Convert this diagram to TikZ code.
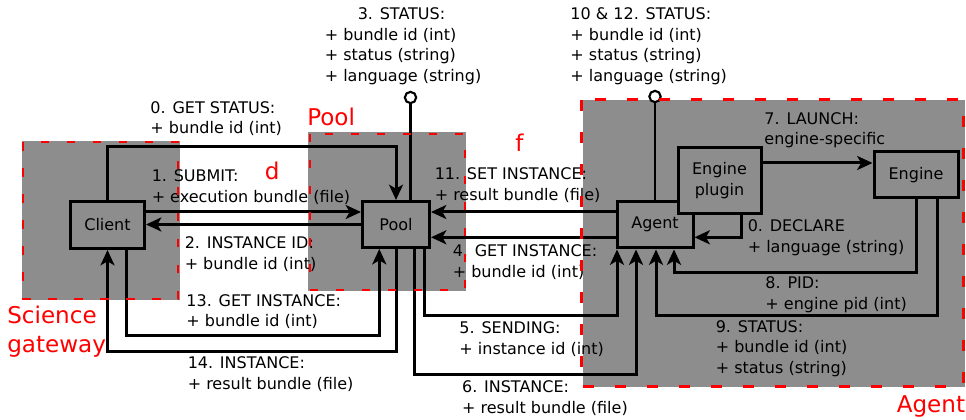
\documentclass[tikz,border=0pt]{standalone}
\usepackage{fontspec}
\setmainfont{DejaVu Sans}
\usetikzlibrary{arrows.meta,calc}
\definecolor{regiongray}{RGB}{141,141,141}
\begin{document}
\begin{tikzpicture}[x=0.75pt,y=-0.75pt,
  conn/.style={line width=2.25pt},
  arr/.style={-{Stealth[length=11.5pt,width=10.5pt,inset=3pt]}},
  box/.style={draw,line width=2.25pt,fill=regiongray,font=\fontsize{12}{15.6}\selectfont,inner sep=0pt},
  lbl/.style={anchor=base west,inner sep=0pt,align=left,font=\fontsize{12}{15.6}\selectfont},
  region/.style={draw=red,line width=1.6pt,dash pattern=on 6.2pt off 13.3pt},
  bigregion/.style={draw=red,line width=2.25pt,dash pattern=on 8.25pt off 15.75pt},
  rlbl/.style={anchor=base west,inner sep=0pt,align=left,text=red,font=\fontsize{17.3}{22.1}\selectfont},
  port/.style={circle,draw,line width=1.6pt,fill=white,minimum size=8.5pt,inner sep=0pt},
  stem/.style={line width=1.8pt}
]
\useasboundingbox (0,0) rectangle (966,420);
% region backgrounds
\fill[regiongray] (22,141) rectangle (180,300);
\fill[regiongray] (308,132.3) rectangle (466,290.5);
\fill[regiongray] (582.7,100) rectangle (965,387);

% nodes
\node[box,minimum width=55.5pt,minimum height=35.25pt] (client) at (107.5,225) {Client};
\node[box,minimum width=50.25pt,minimum height=34.5pt] (pool) at (396,224.5) {Pool};
\node[box,minimum width=57pt,minimum height=34.9pt] (agent) at (655,224.7) {Agent};
\node[box,minimum width=62.25pt,minimum height=49.9pt,align=center] (plugin) at (719.5,180.3) {Engine\\plugin};
\node[box,minimum width=63pt,minimum height=34.9pt] (engine) at (916,174.7) {Engine};
\node[port] (c3) at (410.5,97.5) {};
\node[port] (c10) at (655,96.5) {};

% connectors
\draw[conn,arr] (client.north) -- ++(0,-53) -| (pool.north);
\draw[conn,arr] ($(client.east)+(0,-13)$) coordinate (s1) -- (s1 -| pool.west);
\draw[conn,arr] (pool.west) -- (pool.west -| client.east);
\draw[conn,arr] ($(client.south)+(18.5,0)$) -- ++(0,85) -| ($(pool.south)+(-16.7,0)$);
\draw[conn,arr] (pool.south) -- ++(0,102) -| (client.south);
\draw[conn,arr] ($(agent.west)+(0,-12.7)$) coordinate (s11) -- (s11 -| pool.east);
\draw[conn,arr] ($(agent.west)+(0,12.6)$) coordinate (s4) -- (s4 -| pool.east);
\draw[conn,arr] ($(pool.south)+(28.3,0)$) -- ++(0,66) -| ($(agent.south)+(-38,0)$);
\draw[conn,arr] ($(pool.south)+(18,0)$) -- ++(0,125) -| ($(agent.south)+(-19,0)$);
\draw[conn,arr] ($(engine.south)+(21.7,0)$) -- ++(0,116.4) -| ($(agent.south)+(1,0)$);
\draw[conn,arr] ($(engine.south)+(0.7,0)$) -- ++(0,73.4) -| ($(agent.south)+(19,0)$);
\draw[conn,arr] ($(plugin.south)+(21.5,0)$) |- ($(agent.east)+(0,12.6)$);
\draw[conn,arr] ($(plugin.east)+(0,-17.3)$) coordinate (s7) -- (s7 -| engine.west);
\draw[stem] (pool.north -| c3) -- (c3.south);
\draw[stem] (agent.north -| c10) -- (c10.south);

% labels (anchor = baseline of the last line)
\node[lbl] (l0) at (150.2,134) {0. GET STATUS:\\+ bundle id (int)};
\node[lbl] (l1) at (151.5,202.8) {1. SUBMIT:\\+ execution bundle (file)};
\node[lbl] (l2) at (184.5,269) {2. INSTANCE ID:\\+ bundle id (int)};
\node[lbl] (l13) at (186.2,326.8) {13. GET INSTANCE:\\+ bundle id (int)};
\node[lbl] (l14) at (187.5,389.4) {14. INSTANCE:\\+ result bundle (file)};
\node[lbl] (l3) at (324.5,81.8) {\hspace*{24.75pt}3. STATUS:\\+ bundle id (int)\\+ status (string)\\+ language (string)};
\node[lbl] (l11) at (434.5,200) {11. SET INSTANCE:\\+ result bundle (file)};
\node[lbl] (l4) at (452.5,277.5) {4. GET INSTANCE:\\+ bundle id (int)};
\node[lbl] (l5) at (459.2,354.4) {5. SENDING:\\+ instance id (int)};
\node[lbl] (l6) at (461.8,413.4) {6. INSTANCE:\\+ result bundle (file)};
\node[lbl] (l1012) at (570.2,81.8) {10 \& 12. STATUS:\\+ bundle id (int)\\+ status (string)\\+ language (string)};
\node[lbl] (l7) at (764.2,145) {7. LAUNCH:\\engine-specific};
\node[lbl] (l0d) at (747.5,252.7) {0. DECLARE\\+ language (string)};
\node[lbl] (l8) at (765.2,309.4) {8. PID:\\+ engine pid (int)};
\node[lbl] (l9) at (715.5,373.6) {9. STATUS:\\+ bundle id (int)\\+ status (string)};

% red labels
\node[rlbl] (sg) at (7,352.9) {Science\\gateway};
\node[rlbl] (pl) at (307,125.4) {Pool};
\node[rlbl] (dl) at (264.5,179.7) {d};
\node[rlbl] (fl) at (515,151.7) {f};
\node[rlbl] (al) at (896.5,412) {Agent};

% region borders
\draw[region] (23,142.3) rectangle (178.3,299);
\draw[region] (309.8,134) rectangle (464.7,289.7);
\draw[bigregion] (581.7,100) rectangle (963.3,386.5);
\end{tikzpicture}
\end{document}
